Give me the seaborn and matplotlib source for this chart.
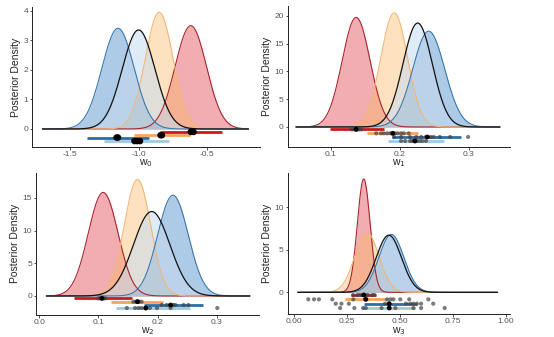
import numpy as np
import pandas as pd
import matplotlib
matplotlib.use("Agg")
import matplotlib.pyplot as plt
import seaborn as sns

sns.set_theme(style="ticks")
plt.rcParams['font.family'] = ['Liberation Sans', 'DejaVu Sans']

# ---------------- data ----------------
groups = ["red", "orange", "blue", "light"]

# posterior density summaries (mean, sd)
w0_mean = [-0.62, -0.85, -1.15, -1.00]
w0_sd = [0.114, 0.101, 0.117, 0.119]
w0_range = [-1.70, -0.20]
w1_mean = [0.137, 0.192, 0.242, 0.226]
w1_sd = [0.0202, 0.0194, 0.0231, 0.0213]
w1_range = [0.050, 0.345]
w2_mean = [0.108, 0.166, 0.226, 0.190]
w2_sd = [0.0252, 0.0224, 0.0259, 0.0309]
w2_range = [0.012, 0.356]
w3_mean = [0.330, 0.345, 0.460, 0.448]
w3_sd = [0.030, 0.057, 0.0587, 0.0595]
w3_range = [0.020, 0.960]

# interval estimates (low, high, median)
w0_lo = [-0.846, -1.03, -1.373, -1.249]
w0_hi = [-0.39, -0.627, -0.922, -0.78]
w0_med = [-0.61, -0.834, -1.154, -1.012]
w1_lo = [0.0986, 0.153, 0.189, 0.183]
w1_hi = [0.178, 0.226, 0.289, 0.264]
w1_med = [0.137, 0.190, 0.240, 0.222]
w2_lo = [0.0587, 0.122, 0.177, 0.130]
w2_hi = [0.156, 0.209, 0.277, 0.255]
w2_med = [0.106, 0.166, 0.222, 0.180]
w3_lo = [0.27, 0.24, 0.33, 0.32]
w3_hi = [0.39, 0.44, 0.58, 0.57]
w3_med = [0.33, 0.34, 0.45, 0.45]

# individual estimates (dots)
w0_dots = [[-0.62, -0.60], [-0.84, -0.83], [-1.16, -1.15], [-1.03, -1.01, -0.99]]
w1_dots = [[0.130, 0.133, 0.136, 0.138, 0.140, 0.142, 0.145],
           [0.166, 0.173, 0.177, 0.182, 0.187, 0.193, 0.197, 0.202, 0.206, 0.213],
           [0.192, 0.202, 0.215, 0.224, 0.231, 0.238, 0.245, 0.249, 0.258, 0.273, 0.299],
           [0.202, 0.208, 0.215, 0.218, 0.221, 0.225, 0.229, 0.233, 0.238]]
w2_dots = [[0.100, 0.103, 0.106, 0.109, 0.112],
           [0.159, 0.163, 0.166, 0.169, 0.173],
           [0.207, 0.215, 0.221, 0.224, 0.227, 0.230, 0.244, 0.252],
           [0.148, 0.162, 0.168, 0.173, 0.180, 0.187, 0.199, 0.222, 0.301]]
w3_dots = [[0.28, 0.30, 0.31, 0.32, 0.33, 0.34, 0.35, 0.37, 0.38],
           [0.069, 0.096, 0.119, 0.182, 0.281, 0.337, 0.44, 0.456, 0.47, 0.502, 0.544, 0.634],
           [0.198, 0.225, 0.26, 0.43, 0.45, 0.529, 0.549, 0.564, 0.58, 0.60, 0.657],
           [0.219, 0.286, 0.327, 0.34, 0.414, 0.479, 0.564, 0.60, 0.711]]

# ---------------- styles ----------------
fill_col = {"red": "#e34a55", "orange": "#fdb863", "blue": "#3d85c6", "light": "#c6dbef"}
fill_alpha = {"red": 0.45, "orange": 0.4, "blue": 0.42, "light": 0.55}
edge_col = {"red": "#a8252e", "orange": "#f0b87a", "blue": "#3a78ad", "light": "#111111"}
bar_col = {"red": "#c8191e", "orange": "#f4a460", "blue": "#2b6fa8", "light": "#9ecae1"}

panels = [
    dict(name="w$_0$", mean=w0_mean, sd=w0_sd, rng=w0_range, lo=w0_lo, hi=w0_hi, med=w0_med,
         dots=w0_dots, rows=[-0.10, -0.21, -0.29, -0.41], xlim=(-1.774, -0.116), ylim=(-0.6, 4.12),
         xticks=[-1.5, -1.0, -0.5], xtl=["-1.5", "-1.0", "-0.5"], yticks=[0, 1, 2, 3, 4],
         box=(32.3, 7.3, 260, 146.7), big=True),
    dict(name="w$_1$", mean=w1_mean, sd=w1_sd, rng=w1_range, lo=w1_lo, hi=w1_hi, med=w1_med,
         dots=w1_dots, rows=[-0.42, -1.14, -1.8, -2.52], xlim=(0.038, 0.36), ylim=(-3.55, 21.8),
         xticks=[0.1, 0.2, 0.3], xtl=["0.1", "0.2", "0.3"], yticks=[0, 5, 10, 15, 20],
         box=(287.7, 6, 510.3, 146.7), big=False),
    dict(name="w$_2$", mean=w2_mean, sd=w2_sd, rng=w2_range, lo=w2_lo, hi=w2_hi, med=w2_med,
         dots=w2_dots, rows=[-0.36, -0.87, -1.38, -1.84], xlim=(-0.0056, 0.372), ylim=(-2.86, 18.8),
         xticks=[0.0, 0.1, 0.2, 0.3], xtl=["0.0", "0.1", "0.2", "0.3"], yticks=[0, 5, 10, 15],
         box=(36, 173, 259.3, 314.7), big=False),
    dict(name="w$_3$", mean=w3_mean, sd=w3_sd, rng=w3_range, lo=w3_lo, hi=w3_hi, med=w3_med,
         dots=w3_dots, rows=[-0.31, -0.82, -1.33, -1.84], xlim=(-0.028, 1.02), ylim=(-2.54, 14.0),
         xticks=[0.0, 0.25, 0.5, 0.75, 1.0], xtl=["0.00", "0.25", "0.50", "0.75", "1.00"],
         yticks=[0, 5, 10], box=(287.7, 173, 510.3, 314), big=False),
]

W, H = 554, 337
fig = plt.figure(figsize=(W / 100, H / 100), dpi=100)
fig.patch.set_facecolor("white")

for p in panels:
    l, t, r, b = p["box"]
    ax = fig.add_axes([l / W, 1 - b / H, (r - l) / W, (b - t) / H])
    ax.set_facecolor("white")
    xs = np.linspace(p["rng"][0], p["rng"][1], 400)
    curves = []
    for i, g in enumerate(groups):
        m, s = p["mean"][i], p["sd"][i]
        ys = np.exp(-0.5 * ((xs - m) / s) ** 2) / (s * np.sqrt(2 * np.pi))
        curves.append(pd.DataFrame({"x": xs, "y": ys}))
    for i, g in enumerate(groups):
        d = curves[i]
        ax.fill_between(d["x"], 0, d["y"], color=fill_col[g], alpha=fill_alpha[g], lw=0)
    for i, g in enumerate(groups):
        sns.lineplot(data=curves[i], x="x", y="y", ax=ax, color=edge_col[g],
                     lw=0.9 if g == "light" else 0.8, legend=False)
    # intervals
    for i, g in enumerate(groups):
        yrow = p["rows"][i]
        ax.hlines(yrow, p["lo"][i], p["hi"][i], color=bar_col[g], lw=2.0, zorder=3)
        dd = pd.DataFrame({"x": p["dots"][i], "y": [yrow] * len(p["dots"][i])})
        if p["big"]:
            sns.scatterplot(data=dd, x="x", y="y", ax=ax, color="black", s=22,
                            edgecolor="none", zorder=4, legend=False)
        else:
            sns.scatterplot(data=dd, x="x", y="y", ax=ax, color="#444444", alpha=0.7, s=9,
                            edgecolor="none", zorder=4, legend=False)
            sns.scatterplot(x=[p["med"][i]], y=[yrow], ax=ax, color="black", s=12,
                            edgecolor="none", zorder=5, legend=False)
    ax.set_xlim(*p["xlim"])
    ax.set_ylim(*p["ylim"])
    ax.set_xticks(p["xticks"])
    ax.set_xticklabels(p["xtl"])
    ax.set_yticks(p["yticks"])
    ax.tick_params(axis="both", labelsize=6, labelcolor="#555555", color="#333333",
                   length=1.8, width=0.6, pad=1)
    for side in ["top", "right"]:
        ax.spines[side].set_visible(False)
    for side in ["left", "bottom"]:
        ax.spines[side].set_color("#222222")
        ax.spines[side].set_linewidth(0.7)
    ax.set_xlabel(p["name"], fontsize=7.5, color="#222222", labelpad=0)
    ax.set_ylabel("Posterior Density", fontsize=7.5, color="#222222", labelpad=2)

fig.savefig("out.png", dpi=100, facecolor="white")
